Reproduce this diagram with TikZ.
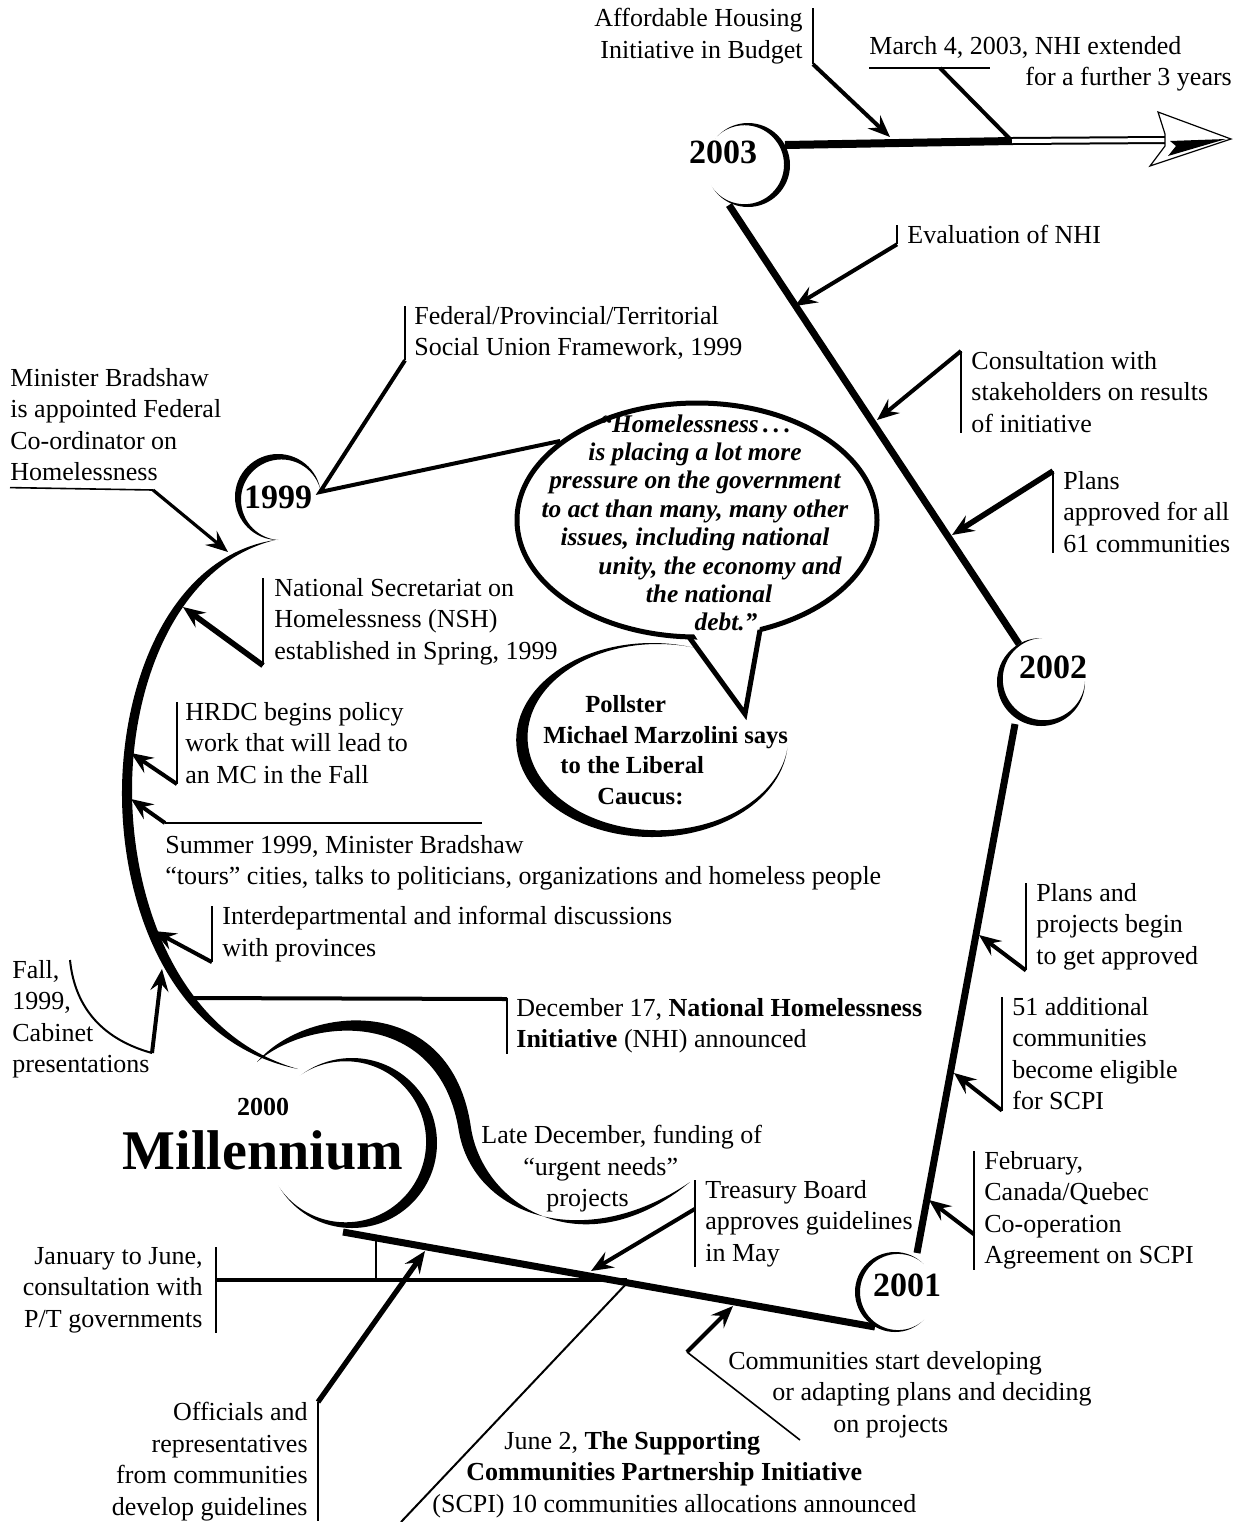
\documentclass[tikz,border=0pt]{standalone}
\usepackage{fontspec}
\setmainfont{Liberation Serif}
\usetikzlibrary{arrows.meta, calc, shapes.geometric}

\newcommand\tlfont{\fontsize{13}{15.75}\selectfont}
\newcommand\yrfont{\fontsize{17}{20}\selectfont\bfseries}
\newcommand\quotefont{\fontsize{12.7}{14.2}\selectfont\bfseries\itshape}
\newcommand\pollfont{\fontsize{12.3}{15.3}\selectfont\bfseries}

% ring round a year: centre, radius, thickest stroke, direction of the gap, half the gap
\newcommand\yearring[5]{%
  \pgfmathsetmacro\rshift{#3*(2*#2-#3)/(2*(#2*cos(#5)+#2-#3))}%
  \pgfmathsetmacro\rinner{#2-#3+\rshift}%
  \begin{scope}
    \clip #1 circle[radius=#2];
    \fill[even odd rule] #1 circle[radius=#2+4] ($#1+(#4:\rshift)$) circle[radius=\rinner];
  \end{scope}}

\begin{document}
\begin{tikzpicture}[
    x=0.5pt, y=-0.5pt, % one unit is one pixel of the sketch, y runs down
    >={Stealth[length=11pt, width=9pt, inset=4pt]},
    every node/.style={font=\tlfont, inner sep=0pt},
    spine/.style={line width=3.5pt},
    leader/.style={->, line width=2pt},
    bar/.style={line width=0.8pt},
    hairline/.style={line width=0.8pt},
    year/.style={font=\yrfont},
    lbl/.style={anchor=north west, align=left},
    rlbl/.style={anchor=north east, align=right}
  ]
  \useasboundingbox (0,0) rectangle (1244,1522);

  % joints of the time line
  \coordinate (s2003a) at (785,145);
  \coordinate (s2003b) at (729,205);
  \coordinate (s2002a) at (1019,644);
  \coordinate (s2002b) at (1015,724);
  \coordinate (s2001a) at (917,1253);
  \coordinate (s2001b) at (875,1327);
  \coordinate (smill) at (343,1232);
  \coordinate (r1999) at (320,492);
  \coordinate (headbase) at (1012,141);
  \coordinate (headtip) at (1165,140);

  % where the leaders hit the line
  \coordinate (tAfford) at (890,137);
  \coordinate (tMarch) at (1010,139);
  \coordinate (tEval) at (795,306);
  \coordinate (tConsult) at (877,420);
  \coordinate (tPlans) at (952,535);
  \coordinate (tProj) at (979,935);
  \coordinate (tAdd) at (954,1073);
  \coordinate (tFeb) at (929,1200);
  \coordinate (tTreasury) at (591,1271);
  \coordinate (tComm) at (733,1306);
  \coordinate (tOfficials) at (425,1251);
  \coordinate (tMinister) at (228,552);
  \coordinate (tNSH) at (183,607);
  \coordinate (tHRDC) at (131,753);
  \coordinate (tSummer) at (131,799);
  \coordinate (tInter) at (154,931);
  \coordinate (tFall) at (162,969);

  % rings
  \yearring{(748,165)}{42}{6}{185}{42}
  \yearring{(278,497)}{43}{7}{40}{50}
  \yearring{(1041,682)}{44}{7}{315}{45}
  \yearring{(895,1292)}{40}{5}{0}{50}
  \yearring{(352,1143)}{85}{11}{191}{45}
  \begin{scope}[shift={(652,740)}, xscale=1.4]
    \yearring{(0,0)}{97}{9}{326}{40}
  \end{scope}

  % the line itself
  \draw[line width=4pt] (s2003a) -- (headbase);
  \draw[double=white, double distance=2pt, line width=1pt] (headbase) -- (headtip);
  \filldraw[fill=white, line width=0.6pt, line join=miter]
    (1165,134) -- (1158,112) -- (1231,139) -- (1150,166) -- (1165,146) -- cycle;
  \fill (1170,141) -- (1226,139) -- (1168,156) -- (1176,146) -- cycle;
  \draw[spine] (s2003b) -- (s2002a);
  \draw[spine] (s2002b) -- (s2001a);
  \draw[spine] (s2001b) -- (smill);
  \fill (275,540) .. controls (172,556) and (123,678) .. (122,790)
    .. controls (121,905) and (170,1043) .. (298,1069)
    .. controls (178,1035) and (132,900) .. (132,790)
    .. controls (132,682) and (178,564) .. (275,540) -- cycle;
  \fill (257,1062) .. controls (308,1003) and (452,992) .. (471,1128)
    .. controls (484,1209) and (587,1268) .. (690,1182)
    .. controls (583,1255) and (474,1215) .. (459,1132)
    .. controls (440,1008) and (312,1015) .. (257,1062) -- cycle;

  % years
  \node[year] (y2003) at (723,152) {2003};
  \node[year] (y1999) at (278,497) {1999};
  \node[year] (y2002) at (1053,667) {2002};
  \node[year] (y2001) at (907,1285) {2001};
  \node[font=\fontsize{13}{15}\selectfont\bfseries] (y2000) at (263,1107) {2000};
  \node[font=\fontsize{28}{30}\selectfont\bfseries] (mill) at (263,1150) {Millennium};

  % speech bubbles
  \node[draw, ellipse, line width=2.5pt, fill=white, minimum width=180pt,
    minimum height=117pt] (bubble) at (697,520) {};
  \coordinate (tailL) at (689,637);
  \coordinate (tailR) at (760,630);
  \coordinate (tailtip) at (745,714);
  \fill[white] (689,626) -- (tailtip) -- (761,620) -- cycle;
  \draw[line width=2.5pt, line join=miter] (tailL) -- (tailtip) -- (tailR);
  \node[anchor=north, align=center, font=\quotefont] (quote) at (695,414) {%
    “Homelessness\,.\,.\,.\\
    is placing a lot more\\
    pressure on the government\\
    to act than many, many other\\
    issues, including national\\
    \hspace*{25pt}unity, the economy and\\
    \hspace*{14pt}the national\\
    \hspace*{31pt}debt.”};
  \node[lbl, font=\pollfont] (poll) at (543,695) {%
    \hspace*{21pt}Pollster\\
    Michael Marzolini says\\
    \hspace*{8.5pt}to the Liberal\\
    \hspace*{27pt}Caucus:};

  % labels along 2003
  \node[rlbl] (afford) at (803,8) {Affordable Housing\\Initiative in Budget};
  \draw[bar] ([xshift=5pt]afford.north east) -- ([xshift=5pt]afford.south east);
  \draw[leader] ([xshift=5pt]afford.south east) -- (tAfford);

  \node[lbl] (march) at (869,36) {March 4, 2003, NHI extended\\\hspace*{78pt}for a further 3 years};
  \coordinate (marchA) at (869,68);
  \coordinate (marchB) at (990,68);
  \coordinate (marchC) at (940,68);
  \draw[hairline] (marchA) -- (marchB);
  \draw[line width=2pt] (marchC) -- (tMarch);

  % labels between 2003 and 2002
  \node[lbl] (eval) at (907,225) {Evaluation of NHI};
  \draw[bar] ([xshift=-5pt]eval.north west) -- ([xshift=-5pt]eval.south west);
  \draw[leader] ([xshift=-5pt]eval.south west) -- (tEval);

  \node[lbl] (consult) at (971,351) {Consultation with\\stakeholders on results\\of initiative};
  \draw[bar] ([xshift=-5pt]consult.north west) -- ([xshift=-5pt]consult.south west);
  \draw[leader] ([xshift=-5pt]consult.north west) -- (tConsult);

  \node[lbl] (plans) at (1063,471) {Plans\\approved for all\\61 communities};
  \draw[bar] ([xshift=-5pt]plans.north west) -- ([xshift=-5pt]plans.south west);
  \draw[leader, line width=2.8pt] ([xshift=-5pt]plans.north west) -- (tPlans);

  % labels between 2002 and 2001
  \node[lbl] (proj) at (1036,883) {Plans and\\projects begin\\to get approved};
  \draw[bar] ([xshift=-5pt]proj.north west) -- ([xshift=-5pt]proj.south west);
  \draw[leader] ([xshift=-5pt]proj.south west) -- (tProj);

  \node[lbl] (add) at (1012,997) {51 additional\\communities\\become eligible\\for SCPI};
  \draw[bar] ([xshift=-5pt]add.north west) -- ([xshift=-5pt]add.south west);
  \draw[leader] ([xshift=-5pt]add.south west) -- (tAdd);

  \node[lbl] (feb) at (984,1151) {February,\\Canada/Quebec\\Co-operation\\Agreement on SCPI};
  \draw[bar] ([xshift=-5pt]feb.north west) -- ([xshift=-5pt]feb.south west);
  \draw[leader] ($([xshift=-5pt]feb.north west)!0.7!([xshift=-5pt]feb.south west)$) -- (tFeb);

  % labels between 2001 and the millennium
  \node[lbl] (treasury) at (705,1180) {Treasury Board\\approves guidelines\\in May};
  \draw[bar] ([xshift=-5pt]treasury.north west) -- ([xshift=-5pt]treasury.south west);
  \draw[leader] ($([xshift=-5pt]treasury.north west)!0.33!([xshift=-5pt]treasury.south west)$) -- (tTreasury);

  \node[lbl] (comm) at (728,1351) {Communities start developing\\
    \hspace*{22pt}or adapting plans and deciding\\\hspace*{52.5pt}on projects};
  \coordinate (commfoot) at (800,1440);
  \coordinate (commknee) at (687,1352);
  \draw[hairline] (commfoot) -- (commknee);
  \draw[leader] (commknee) -- (tComm);

  \node[lbl] (june) at (432,1431) {\hspace*{36pt}June 2, \textbf{The Supporting}\\
    \hspace*{17pt}\textbf{Communities Partnership Initiative}\\
    (SCPI) 10 communities allocations announced};
  \coordinate (junetop) at (627,1283);
  \coordinate (junefoot) at (401,1522);
  \draw[line width=1pt] (junetop) -- (junefoot);

  \node[rlbl] (officials) at (308,1402) {Officials and\\representatives\\from communities\\develop guidelines};
  \draw[bar] ([xshift=5pt]officials.north east) -- ([xshift=5pt]officials.south east);
  \draw[leader, line width=2.6pt] ([xshift=5pt]officials.north east) -- (tOfficials);

  \node[rlbl] (january) at (203,1247) {January to June,\\consultation with\\P/T governments};
  \coordinate (janA) at (216,1280);
  \coordinate (janB) at (627,1280);
  \coordinate (tickA) at (376,1238);
  \coordinate (tickB) at (376,1280);
  \draw[bar] ([xshift=6.5pt]january.north east) -- ([xshift=6.5pt]january.south east);
  \draw[line width=1.6pt] (janA) -- (janB);
  \draw[line width=1.2pt] (tickA) -- (tickB);

  \node[lbl] (late) at (481,1125) {Late December, funding of\\
    \hspace*{21pt}“urgent needs”\\\hspace*{32.5pt}projects};

  % labels round 1999
  \node[lbl] (dec) at (516,998) {December 17, \textbf{National Homelessness}\\
    \textbf{Initiative} (NHI) announced};
  \coordinate (decarc) at (186,998);
  \draw[line width=2pt] (decarc) -- ([xshift=-4.5pt, yshift=-0.5pt]dec.north west);
  \draw[bar] ([xshift=-4.5pt]dec.north west) -- ([xshift=-4.5pt]dec.south west);

  \node[lbl] (fall) at (12,960) {Fall,\\1999,\\Cabinet\\presentations};
  \coordinate (fallA) at (70,960);
  \coordinate (fallB) at (152,1053);
  \draw[line width=1pt] (fallA) .. controls (75,1010) and (105,1040) .. (fallB);
  \draw[leader] (fallB) -- (tFall);

  \node[lbl] (inter) at (222,906) {Interdepartmental and informal discussions\\with provinces};
  \draw[bar] ([xshift=-5pt]inter.north west) -- ([xshift=-5pt]inter.south west);
  \draw[leader] ([xshift=-5pt]inter.south west) -- (tInter);

  \node[lbl] (summer) at (165,835) {Summer 1999, Minister Bradshaw\\
    “tours” cities, talks to politicians, organizations and homeless people};
  \coordinate (sumline) at (482,823);
  \draw[hairline] ([yshift=6pt]summer.north west) -- (sumline);
  \draw[leader] ([yshift=6pt]summer.north west) -- (tSummer);

  \node[lbl] (hrdc) at (185,702) {HRDC begins policy\\work that will lead to\\an MC in the Fall};
  \draw[bar] ([xshift=-4pt]hrdc.north west) -- ([xshift=-4pt]hrdc.south west);
  \draw[leader] ([xshift=-4pt]hrdc.south west) -- (tHRDC);

  \node[lbl] (nsh) at (274,578) {National Secretariat on\\Homelessness (NSH)\\established in Spring, 1999};
  \draw[bar] ([xshift=-5.5pt]nsh.north west) -- ([xshift=-5.5pt]nsh.south west);
  \draw[leader, line width=2.8pt] ([xshift=-5.5pt]nsh.south west) -- (tNSH);

  \node[lbl] (minister) at (10,368) {Minister Bradshaw\\is appointed Federal\\Co-ordinator on\\Homelessness};
  \coordinate (minline) at (153,490);
  \draw[hairline] ([yshift=-3pt]minister.south west) -- (minline);
  \draw[leader, line width=1.6pt] (minline) -- (tMinister);

  \node[lbl] (federal) at (414,306) {Federal/Provincial/Territorial\\Social Union Framework, 1999};
  \draw[bar] ([xshift=-4.5pt]federal.north west) -- ([xshift=-4.5pt]federal.south west);
  \draw[line width=2pt] ([xshift=-4.5pt]federal.south west) -- (r1999) -- (bubble.150);

\end{tikzpicture}
\end{document}
